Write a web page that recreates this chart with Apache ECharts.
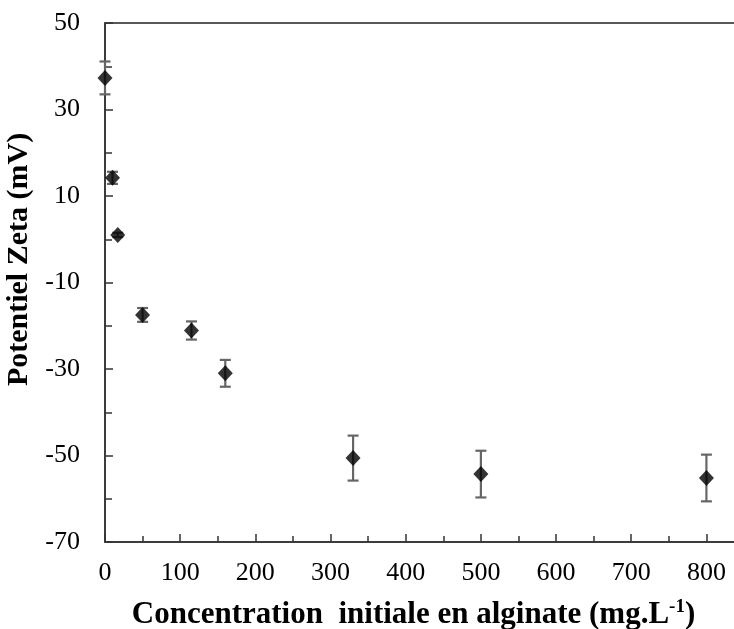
<!DOCTYPE html>
<html>
<head>
<meta charset="utf-8">
<script src="https://cdn.jsdelivr.net/npm/echarts@6/dist/echarts.min.js"></script>
<style>html,body{margin:0;padding:0;background:#fff}#c{width:734px;height:629px}</style>
</head>
<body>
<div id="c"></div>
<script>
var concentrations = [0, 10, 17, 50, 115, 160, 330, 500, 800];
var zeta = [37.3, 14.2, 1.0, -17.5, -21.1, -31.0, -50.6, -54.3, -55.2];
var errors = [3.8, 1.4, 0.5, 1.6, 2.1, 3.1, 5.2, 5.4, 5.4];
var xTicks = [0, 100, 200, 300, 400, 500, 600, 700, 800];
var yTicks = [-70, -50, -30, -10, 10, 30, 50];

var pts = concentrations.map(function (x, i) { return [x, zeta[i]]; });
var errData = concentrations.map(function (x, i) { return [x, zeta[i] - errors[i], zeta[i] + errors[i]]; });

var chart = echarts.init(document.getElementById('c'));
var font = 'Liberation Serif';
chart.setOption({
  animation: false,
  backgroundColor: '#fff',
  grid: { left: 105, top: 23, bottom: 87, right: -10, containLabel: false, outerBoundsMode: 'none',
    show: true, borderColor: '#222', borderWidth: 1.5, backgroundColor: 'transparent' },
  xAxis: {
    type: 'value', min: 0, max: 850, interval: 100,
    axisLine: { show: true, onZero: false, lineStyle: { color: '#333', width: 1.5 } },
    axisTick: { show: true, inside: true, length: 8, lineStyle: { color: '#333', width: 1.5 } },
    minorTick: { show: true, splitNumber: 2, length: 6, lineStyle: { color: '#333', width: 1.5 } },
    splitLine: { show: false },
    axisLabel: { margin: 18, fontFamily: font, fontSize: 26, color: '#000', hideOverlap: false,
      formatter: function (v) { return xTicks.indexOf(v) >= 0 ? String(v) : ''; } },
    name: 'Concentration  initiale en alginate (mg.L{sup|-1})',
    nameLocation: 'middle', nameGap: 56,
    nameTextStyle: { fontFamily: font, fontSize: 31, fontWeight: 'bold', color: '#000', padding: [0, 22, 0, 0],
      rich: { sup: { fontFamily: font, fontSize: 19, fontWeight: 'bold', color: '#000', verticalAlign: 'top', padding: [0, 0, 14, 0] } } }
  },
  yAxis: {
    type: 'value', min: -70, max: 50, interval: 20,
    axisLine: { show: true, onZero: false, lineStyle: { color: '#333', width: 1.5 } },
    axisTick: { show: true, inside: true, length: 8, lineStyle: { color: '#333', width: 1.5 } },
    minorTick: { show: true, splitNumber: 2, length: 7, lineStyle: { color: '#333', width: 1.5 } },
    splitLine: { show: false },
    axisLabel: { margin: 25, fontFamily: font, fontSize: 26, color: '#000', hideOverlap: false,
      formatter: function (v) { return yTicks.indexOf(v) >= 0 ? String(v) : ''; } },
    name: 'Potentiel Zeta (mV)',
    nameLocation: 'middle', nameGap: 63,
    nameTextStyle: { fontFamily: font, fontSize: 30, fontWeight: 'bold', color: '#000', padding: [0, 0, 0, 46] }
  },
  series: [
    {
      type: 'custom',
      data: errData,
      z: 2,
      renderItem: function (params, api) {
        var x = api.value(0);
        var lo = api.coord([x, api.value(1)]);
        var hi = api.coord([x, api.value(2)]);
        var hw = 5.5;
        var style = { stroke: '#666', lineWidth: 2.2, fill: null };
        return {
          type: 'group',
          children: [
            { type: 'line', shape: { x1: lo[0], y1: lo[1], x2: hi[0], y2: hi[1] }, style: style },
            { type: 'line', shape: { x1: lo[0] - hw, y1: lo[1], x2: lo[0] + hw, y2: lo[1] }, style: style },
            { type: 'line', shape: { x1: hi[0] - hw, y1: hi[1], x2: hi[0] + hw, y2: hi[1] }, style: style }
          ]
        };
      }
    },
    {
      type: 'scatter',
      data: pts,
      symbol: 'diamond',
      symbolSize: [15, 16],
      z: 3,
      itemStyle: { color: '#000' }
    }
  ]
});
</script>
</body>
</html>
